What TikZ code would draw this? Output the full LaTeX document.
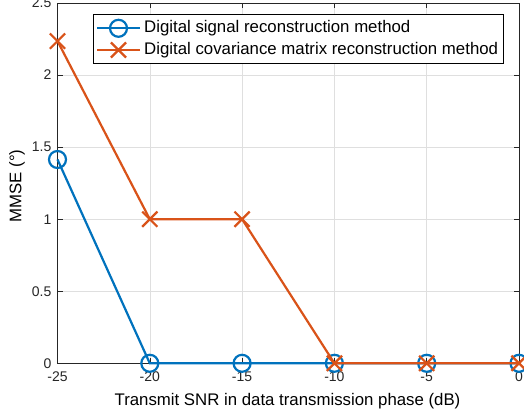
\documentclass[tikz,border=0pt]{standalone}
\usepackage{fontspec}
\setmainfont{Liberation Sans}
\definecolor{mblue}{rgb}{0,0.447,0.741}
\definecolor{morange}{rgb}{0.85,0.325,0.098}
\definecolor{axgray}{rgb}{0.15,0.15,0.15}
\definecolor{gridgray}{rgb}{0.875,0.875,0.875}
\tikzset{
  ticklab/.style={font=\fontsize{14}{14}\selectfont, text=axgray, inner sep=0pt},
  bigtxt/.style={font=\fontsize{16.8}{16.8}\selectfont, inner sep=0pt},
  legtxt/.style={font=\fontsize{16.8}{16.8}\selectfont, inner sep=0pt, anchor=west},
  bline/.style={draw=mblue, line width=2.2pt},
  oline/.style={draw=morange, line width=2.2pt},
  bmark/.style={circle, draw=mblue, line width=2.2pt, minimum size=17pt, inner sep=0pt},
  omark/.style={cross out, draw=morange, line width=2.2pt, minimum size=13pt, inner sep=0pt},
}
\usetikzlibrary{shapes.misc}
\begin{document}
\begin{tikzpicture}[x=1pt,y=1pt]
\useasboundingbox (0,0) rectangle (524,419);
\begin{scope}[shift={(519,55.7)}, x=18.46pt, y=144.1pt]
  % grid
  \foreach \xx in {-20,-15,-10,-5}
    \draw[gridgray, line width=0.6pt] (\xx,0) -- (\xx,2.5);
  \foreach \yy in {0.5,1,1.5,2}
    \draw[gridgray, line width=0.6pt] (-25,\yy) -- (0,\yy);
  % ticks
  \foreach \xx in {-25,-20,-15,-10,-5,0} {
    \draw[axgray, line width=0.6pt] (\xx,0) -- ++(0,5pt);
    \draw[axgray, line width=0.6pt] (\xx,2.5) -- ++(0,-5pt);
    \node[ticklab] at ([yshift=-13.5pt]\xx,0) {\xx};
  }
  \foreach \yy/\lab in {0/0,0.5/0.5,1/1,1.5/1.5,2/2,2.5/2.5} {
    \draw[axgray, line width=0.6pt] (-25,\yy) -- ++(5pt,0);
    \draw[axgray, line width=0.6pt] (0,\yy) -- ++(-5pt,0);
    \node[ticklab, anchor=east] at ([xshift=-6pt]-25,\yy) {\lab};
  }
  \draw[axgray, line width=0.6pt] (-25,0) rectangle (0,2.5);
  % data
  \coordinate (b1) at (-25,1.4142);
  \coordinate (b2) at (-20,0);
  \coordinate (b3) at (-15,0);
  \coordinate (b4) at (-10,0);
  \coordinate (b5) at (-5,0);
  \coordinate (b6) at (0,0);
  \coordinate (o1) at (-25,2.2361);
  \coordinate (o2) at (-20,1);
  \coordinate (o3) at (-15,1);
  \coordinate (o4) at (-10,0);
  \coordinate (o5) at (-5,0);
  \coordinate (o6) at (0,0);
  \draw[bline] (b1) -- (b2) -- (b3) -- (b4) -- (b5) -- (b6);
  \foreach \i in {1,...,6} \node[bmark] (bm\i) at (b\i) {};
  \draw[oline] (o1) -- (o2) -- (o3) -- (o4) -- (o5) -- (o6);
  \foreach \i in {1,...,6} \node[omark] (om\i) at (o\i) {};
\end{scope}
% labels
\node[bigtxt] (xl) at (287.5,18) {Transmit SNR in data transmission phase (dB)};
\node[bigtxt, rotate=90] (yl) at (17,233) {MMSE (°)};
% legend
\node[draw=black, fill=white, line width=0.6pt, minimum width=410pt, minimum height=49pt, inner sep=0pt] (leg) at (298,380.5) {};
\coordinate (l1a) at (97,390.7); \coordinate (l1b) at (140,390.7);
\coordinate (l2a) at (97,369); \coordinate (l2b) at (140,369);
\draw[bline] (l1a) -- (l1b);
\node[bmark] (lbm) at (118.5,390.7) {};
\draw[oline] (l2a) -- (l2b);
\node[omark] (lom) at (118.5,369) {};
\node[legtxt] (lt1) at (144,390.7) {Digital signal reconstruction method};
\node[legtxt] (lt2) at (144,369) {Digital covariance matrix reconstruction method};
\end{tikzpicture}
\end{document}
